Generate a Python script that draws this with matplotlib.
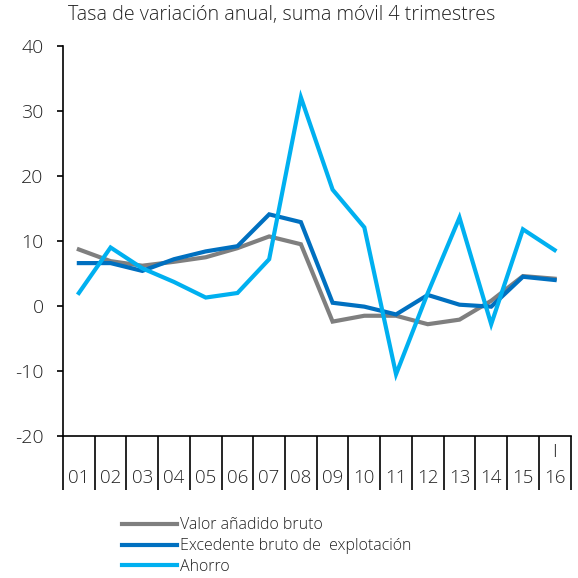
import numpy as np
import matplotlib
matplotlib.use("Agg")
import matplotlib.pyplot as plt
import matplotlib.transforms as mtransforms

plt.rcParams['font.family'] = ['Open Sans', 'DejaVu Sans']
plt.rcParams['font.weight'] = 'light'
plt.rcParams['axes.unicode_minus'] = False

# Data
years = ["01", "02", "03", "04", "05", "06", "07", "08",
         "09", "10", "11", "12", "13", "14", "15", "16"]
vab = [8.7, 6.9, 6.2, 6.8, 7.5, 8.9, 10.7, 9.5,
       -2.4, -1.5, -1.5, -2.8, -2.1, 0.8, 4.6, 4.2]
ebe = [6.6, 6.6, 5.4, 7.2, 8.4, 9.2, 14.1, 12.9,
       0.5, -0.1, -1.3, 1.7, 0.2, -0.1, 4.5, 4.0]
ahorro = [2.0, 9.0, 5.8, 3.7, 1.3, 2.0, 7.2, 32.1,
          17.9, 12.1, -10.5, 2.0, 13.6, -2.8, 11.8, 8.6]
yticks = [-20, -10, 0, 10, 20, 30, 40]

TXT = '#222222'

fig = plt.figure(figsize=(5.78, 5.78), dpi=100)
ax = fig.add_axes([63/578, 1 - 436/578, (570.5 - 63)/578, 390/578])

x = np.arange(len(years))
l1, = ax.plot(x, vab, color='#7f7f7f', lw=3, label='Valor añadido bruto', solid_joinstyle='miter')
l2, = ax.plot(x, ebe, color='#0070c0', lw=3, label='Excedente bruto de  explotación', solid_joinstyle='miter')
l3, = ax.plot(x, ahorro, color='#00b0f0', lw=3, label='Ahorro', solid_joinstyle='miter')

ax.set_xlim(-0.5, len(years) - 0.5)
ax.set_ylim(-20, 40)
ax.set_yticks(yticks)
ax.tick_params(axis='y', direction='out', length=4, width=1.2, labelsize=14,
               colors='black', labelcolor=TXT, pad=10)

# category axis: separators as long minor ticks, labels on major ticks
ax.set_xticks(x)
ax.set_xticklabels(years)
ax.set_xticks(np.arange(len(years) + 1) - 0.5, minor=True)
ax.tick_params(axis='x', which='major', length=0, labelsize=13.5, labelcolor=TXT, pad=24)
ax.tick_params(axis='x', which='minor', direction='out', length=39, width=1.2, color='black')

for s in ['top', 'right']:
    ax.spines[s].set_visible(False)
ax.spines['left'].set_linewidth(1.2)
ax.spines['bottom'].set_linewidth(1.2)

trans = mtransforms.blended_transform_factory(ax.transData, ax.transAxes)
ax.text(15, -0.04, "I", transform=trans, ha='center', va='center', fontsize=13.5, color=TXT)

fig.text(68/578, 1 - 15/578, "Tasa de variación anual, suma móvil 4 trimestres",
         fontsize=14.2, color=TXT, ha='left', va='center')

fig.legend(handles=[l1, l2, l3], loc='upper left', bbox_to_anchor=(116/578, 1 - 511/578),
           frameon=False, fontsize=11.5, handlelength=3.4, handletextpad=0.2,
           labelspacing=0.3, borderaxespad=0, labelcolor=TXT)

fig.savefig("out.png", dpi=100)
